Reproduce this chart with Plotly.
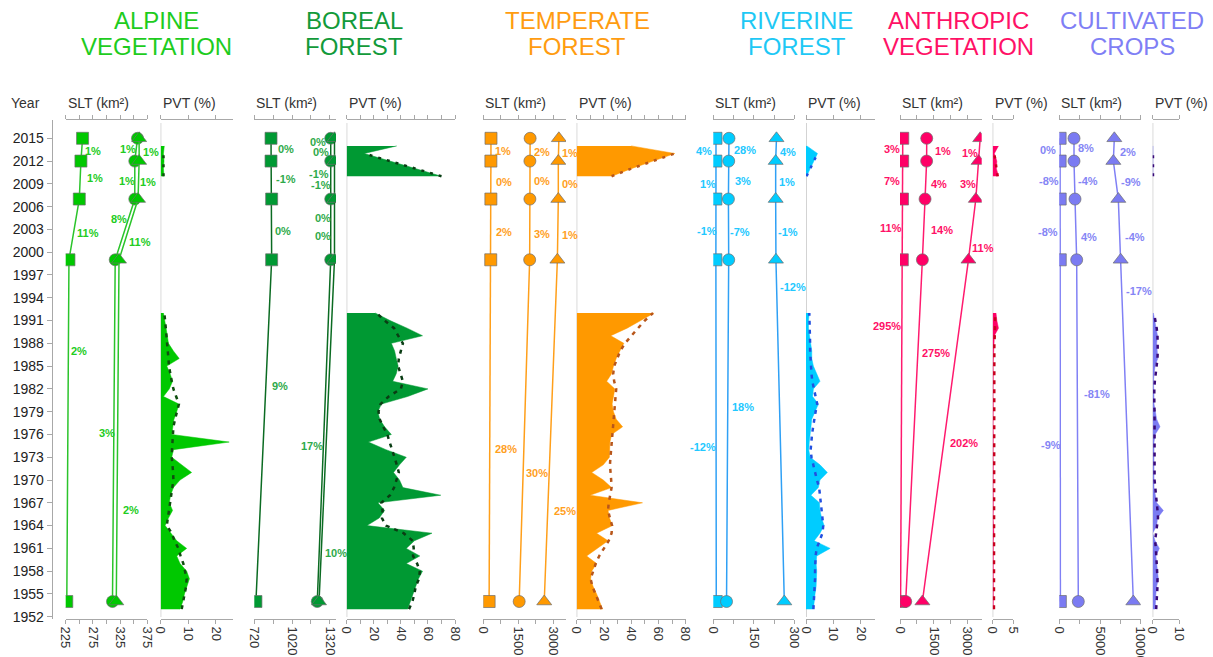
import plotly.graph_objects as go

W, H = 1213, 657
FONT = "Liberation Sans, Arial, sans-serif"

# ---------------- data ----------------
YEAR_TICKS = list(range(1952, 2016, 3))
SLT_YEARS = [2015, 2012, 2007, 1999, 1954]
PVT_YEARS = list(range(1953, 1993))
PVT_RECENT_YEARS = [2010, 2011, 2012, 2013, 2014]
DASH_RECENT_YEARS = [2010, 2011, 2012, 2013]

category_titles = [["ALPINE", "VEGETATION"], ["BOREAL", "FOREST"], ["TEMPERATE", "FOREST"],
                   ["RIVERINE", "FOREST"], ["ANTHROPIC", "VEGETATION"], ["CULTIVATED", "CROPS"]]

# SLT (km2) per series: square, circle, triangle (years 2015, 2012, 2007, 1999, 1954)
alpine_square = [256, 253, 250, 231, 227]
alpine_circle = [357, 352, 352, 316, 311]
alpine_triangle = [360, 360, 358, 323, 318]
boreal_square = [853, 853, 858, 858, 733]
boreal_circle = [1328, 1328, 1328, 1328, 1221]
boreal_triangle = [1358, 1358, 1358, 1358, 1235]
temperate_square = [330, 326, 326, 320, 250]
temperate_circle = [2010, 2000, 2000, 1990, 1540]
temperate_triangle = [3244, 3220, 3220, 3180, 2616]
riverine_square = [10, 9.6, 9.5, 9.6, 11]
riverine_circle = [58, 57, 56, 57, 49]
riverine_triangle = [234, 231, 231, 232, 263]
anthropic_square = [122, 118, 110, 103, 26]
anthropic_circle = [1184, 1180, 1110, 992, 253]
anthropic_triangle = [3552, 3480, 3360, 3033, 992]
cultivated_square = [100, 100, 109, 118, 130]
cultivated_circle = [1806, 1806, 1930, 2135, 2335]
cultivated_triangle = [6760, 6640, 7250, 7540, 9095]

# change labels (segments 2015-2012, 2012-2007, 2007-1999, 1999-1954)
alpine_labels = [["1%", "1%", "11%", "2%"], ["1%", "1%", "8%", "3%"], ["1%", "1%", "11%", "2%"]]
boreal_labels = [["0%", "-1%", "0%", "9%"], ["0%", "-1%", "0%", "17%"], ["0%", "-1%", "0%", "10%"]]
temperate_labels = [["1%", "0%", "2%", "28%"], ["2%", "0%", "3%", "30%"], ["1%", "0%", "1%", "25%"]]
riverine_labels = [["4%", "1%", "-1%", "-12%"], ["28%", "3%", "-7%", "18%"], ["4%", "1%", "-1%", "-12%"]]
anthropic_labels = [["3%", "7%", "11%", "295%"], ["1%", "4%", "14%", "275%"], ["1%", "3%", "11%", "202%"]]
cultivated_labels = [["0%", "-8%", "-8%", "-9%"], ["8%", "-4%", "4%", "-81%"], ["2%", "-9%", "-4%", "-17%"]]

# PVT (%) 1953..1992
alpine_pvt = [7.0, 8.0, 8.6, 9.4, 10.4, 9.4, 7.0, 5.8, 9.4, 5.8, 3.6, 1.6, 2.8, 4.3, 3.1, 3.6, 4.6, 7.0, 11.2, 7.6,
              4.0, 4.6, 24.8, 4.0, 4.3, 4.8, 5.8, 6.6, 1.0, 3.1, 4.3, 3.4, 2.2, 6.7, 4.6, 2.8, 2.4, 1.9, 1.6, 1.0]
alpine_trend = [7.6, 8.2, 8.8, 9.2, 9.4, 8.8, 8.2, 7.2, 6.4, 5.0, 4.0, 2.2, 2.6, 3.0, 3.4, 3.8, 4.2, 4.6, 4.5, 4.2,
                4.0, 4.1, 4.2, 4.3, 4.6, 5.2, 5.8, 6.6, 5.6, 4.6, 4.0, 3.4, 3.0, 2.8, 2.6, 2.4, 2.2, 1.9, 1.6, 1.3]
boreal_pvt = [45, 47, 49, 51, 53, 56, 44, 54, 44, 50, 63, 15, 24, 28, 23, 69.5, 41.5, 39, 34.6, 39,
              44, 29, 16, 33, 28, 24.4, 23, 25.6, 45, 60, 34, 36.6, 38, 36.6, 35.4, 33, 56, 44.6, 32, 21]
boreal_trend = [46, 48.5, 50, 51, 53.5, 54, 52, 49, 49.5, 48.8, 42, 29, 26, 26.5, 25.6, 32, 35, 36.6, 38.5, 37,
                35, 33.5, 31.7, 30, 27, 24.4, 23.5, 25, 31, 40, 41.5, 40, 38, 38.5, 40, 41.5, 38, 35, 28, 22]
temperate_pvt = [19, 17, 14.6, 12, 10.2, 11, 14.6, 7.3, 15, 23, 14.6, 26.3, 24, 23, 48.3, 9.8, 25.6, 19.5, 11, 19.5,
                 24, 24, 24.4, 25.6, 33.7, 29, 27, 26, 27, 28, 22, 25.6, 27, 29, 31.7, 34.6, 25, 37, 47, 56.8]
temperate_trend = [18.3, 16, 13.4, 11.5, 10.2, 12, 14, 16.5, 20, 23.5, 25.6, 26, 24.4, 23, 23.5, 24.5, 25.6, 25.3, 25, 24.4,
                   24.8, 25.3, 25.8, 26.3, 26.8, 27.3, 27.6, 28, 28.8, 29, 27.5, 26.8, 27.5, 29.5, 32, 35.4, 40, 45, 50, 56]
riverine_pvt = [2.7, 2.9, 3.3, 3.7, 3.9, 3.9, 3.7, 3.9, 8.8, 3.0, 5.1, 6.6, 5.7, 5.1, 4.9, 1.8, 4.5, 5.1, 7.8, 5.1,
                1.5, 1.0, 1.2, 1.5, 1.7, 2.1, 3.3, 4.5, 2.4, 2.7, 5.1, 3.9, 2.7, 2.1, 2.1, 1.7, 1.2, 0.9, 0.9, 1.2]
riverine_trend = [2.7, 2.9, 3.0, 3.2, 3.3, 3.3, 3.3, 3.5, 3.9, 5.0, 6.0, 6.3, 6.0, 5.7, 5.4, 5.0, 4.8, 4.0, 3.3, 2.6,
                  2.0, 1.7, 1.9, 2.2, 2.6, 3.0, 3.5, 4.1, 3.5, 2.8, 2.3, 2.0, 1.8, 1.7, 1.5, 1.5, 1.4, 1.3, 1.2, 1.2]
anthropic_pvt = [0.15, 0.15, 0.1, 0.15, 0.2, 0.15, 0.1, 0.15, 0.2, 0.15, 0.3, 0.15, 0.1, 0.15, 0.2, 0.15, 0.1, 0.15, 0.2, 0.15,
                 0.1, 0.15, 0.2, 0.15, 0.1, 0.15, 0.2, 0.15, 0.1, 0.15, 0.2, 0.15, 0.1, 0.15, 0.2, 0.2, 0.4, 1.4, 1.0, 0.8]
anthropic_trend = [0.3, 0.3, 0.3, 0.3, 0.3, 0.3, 0.3, 0.3, 0.3, 0.3, 0.3, 0.3, 0.3, 0.3, 0.3, 0.3, 0.3, 0.3, 0.3, 0.3,
                   0.3, 0.3, 0.3, 0.3, 0.3, 0.3, 0.3, 0.3, 0.3, 0.3, 0.3, 0.3, 0.3, 0.3, 0.35, 0.4, 0.5, 0.6, 0.6, 0.6]
cultivated_pvt = [0.9, 1.0, 1.2, 1.5, 2.1, 1.8, 1.5, 1.2, 2.5, 0.9, 0.0, 1.5, 1.8, 4.0, 1.5, 0.9, 0.5, 0.5, 0.5, 0.3,
                  0.3, 0.3, 0.5, 0.9, 2.75, 1.5, 0.9, 0.5, 0.5, 0.3, 0.3, 0.5, 0.9, 1.9, 1.8, 1.5, 1.8, 1.2, 0.6, 0.25]
cultivated_trend = [1.3, 1.5, 1.6, 1.8, 1.8, 1.7, 1.6, 1.5, 1.2, 0.9, 1.2, 1.6, 2.0, 1.8, 1.5, 1.1, 0.8, 0.7, 0.7, 0.7,
                    0.7, 0.8, 0.8, 0.9, 0.9, 0.8, 0.7, 0.6, 0.5, 0.6, 0.8, 1.2, 1.5, 1.8, 1.9, 1.9, 1.8, 1.5, 1.0, 0.5]

# PVT (%) 2010..2014 and trend 2010..2013
alpine_recent = [1.2, 1.0, 1.2, 1.0, 1.3]
alpine_recent_trend = [1.0, 1.0, 1.0, 1.0]
boreal_recent = [70, 51, 32, 13, 37]
boreal_recent_trend = [70, 51, 32, 13]
temperate_recent = [25.6, 40, 56, 72, 40]
temperate_recent_trend = [25.6, 40, 56, 72]
riverine_recent = [0.2, 1.5, 3.0, 4.2, 0.3]
riverine_recent_trend = [0.2, 1.5, 3.0, 4.2]
anthropic_recent = [1.4, 0.9, 1.0, 0.4, 1.4]
anthropic_recent_trend = [1.2, 0.9, 0.6, 0.4]
cultivated_recent = [0.1, 0.15, 0.1, 0.15, 0.1]
cultivated_recent_trend = [0.1, 0.1, 0.1, 0.1]

# ---------------- styling / layout config ----------------
cats = [
    dict(slt=[alpine_square, alpine_circle, alpine_triangle], labels=alpine_labels,
         pvt=alpine_pvt, trend=alpine_trend, recent=alpine_recent, rtrend=alpine_recent_trend,
         fill="#00C800", line="#2BC42B", text="#22CC22", dash="#0F4F0F", title="#1ECC1E",
         slt_dom=(65.7, 147.3), slt_rng=(225, 375), slt_ticks=[225, 250, 275, 300, 325, 350, 375],
         slt_text=["225", "", "275", "", "325", "", "375"],
         pvt_dom=(160.7, 232.5), pvt_rng=(0, 26), pvt_ticks=[0, 10, 20], pvt_text=["0", "10", "20"],
         title_x=156),
    dict(slt=[boreal_square, boreal_circle, boreal_triangle], labels=boreal_labels,
         pvt=boreal_pvt, trend=boreal_trend, recent=boreal_recent, rtrend=boreal_recent_trend,
         fill="#009933", line="#0B6B22", text="#2EAA4A", dash="#0A3D14", title="#129A3A",
         slt_dom=(254.3, 336), slt_rng=(720, 1370), slt_ticks=[720, 870, 1020, 1170, 1320],
         slt_text=["720", "", "1020", "", "1320"],
         pvt_dom=(346.7, 455), pvt_rng=(0, 80), pvt_ticks=list(range(0, 81, 10)),
         pvt_text=["0", "", "20", "", "40", "", "60", "", "80"], title_x=354),
    dict(slt=[temperate_square, temperate_circle, temperate_triangle], labels=temperate_labels,
         pvt=temperate_pvt, trend=temperate_trend, recent=temperate_recent, rtrend=temperate_recent_trend,
         fill="#FF9900", line="#FF9F1A", text="#FFA01E", dash="#B8561A", title="#FF9C10",
         slt_dom=(483.3, 566), slt_rng=(0, 3550), slt_ticks=[0, 750, 1500, 2250, 3000],
         slt_text=["0", "", "1500", "", "3000"],
         pvt_dom=(576.7, 685.7), pvt_rng=(0, 80), pvt_ticks=list(range(0, 81, 10)),
         pvt_text=["0", "", "20", "", "40", "", "60", "", "80"], title_x=577),
    dict(slt=[riverine_square, riverine_circle, riverine_triangle], labels=riverine_labels,
         pvt=riverine_pvt, trend=riverine_trend, recent=riverine_recent, rtrend=riverine_recent_trend,
         fill="#00CCFF", line="#2FA0F5", text="#22C8FF", dash="#2250E0", title="#1EC8F5",
         slt_dom=(713.3, 794.3), slt_rng=(0, 300), slt_ticks=[0, 75, 150, 225, 300],
         slt_text=["0", "", "150", "", "300"],
         pvt_dom=(806, 874.5), pvt_rng=(0, 25), pvt_ticks=[0, 10, 20], pvt_text=["0", "10", "20"],
         title_x=797),
    dict(slt=[anthropic_square, anthropic_circle, anthropic_triangle], labels=anthropic_labels,
         pvt=anthropic_pvt, trend=anthropic_trend, recent=anthropic_recent, rtrend=anthropic_recent_trend,
         fill="#FF0066", line="#FF1A6E", text="#FF1166", dash="#C8001E", title="#FF1166",
         slt_dom=(900, 981.7), slt_rng=(0, 3620), slt_ticks=[0, 750, 1500, 2250, 3000],
         slt_text=["0", "", "1500", "", "3000"],
         pvt_dom=(992.7, 1013.3), pvt_rng=(0, 5), pvt_ticks=[0, 5], pvt_text=["0", "5"],
         title_x=958),
    dict(slt=[cultivated_square, cultivated_circle, cultivated_triangle], labels=cultivated_labels,
         pvt=cultivated_pvt, trend=cultivated_trend, recent=cultivated_recent, rtrend=cultivated_recent_trend,
         fill="#7B7BF2", line="#8080F5", text="#8585F5", dash="#3A0A78", title="#7F7FF5",
         slt_dom=(1059.3, 1140.7), slt_rng=(0, 10000), slt_ticks=[0, 2500, 5000, 7500, 10000],
         slt_text=["0", "", "5000", "", "10000"],
         pvt_dom=(1152.7, 1179.3), pvt_rng=(0, 10), pvt_ticks=[0, 10], pvt_text=["0", "10"],
         title_x=1132),
]

# pixel positions of the change labels: [category][series][segment] -> (x, y)
label_pos = [
    [[(92.7, 150.7), (95, 177.7), (88.3, 232.7), (79, 351)],
     [(128.3, 149.3), (126.7, 180.7), (119, 219), (106.7, 433.3)],
     [(151, 151.7), (148.3, 181.7), (140, 241.7), (130.7, 510)]],
    [[(285.7, 149), (285.7, 179.3), (283.3, 231), (280, 386)],
     [(317.5, 142.3), (319, 174.3), (322.7, 218.3), (311.7, 446)],
     [(321, 151.7), (321, 185), (323.3, 235.7), (335.7, 552.7)]],
    [[(503.3, 150.7), (504.3, 182.3), (504.3, 231.7), (505.7, 449)],
     [(542.3, 151.7), (542.3, 181), (542.3, 234), (537.3, 472.7)],
     [(570, 152.7), (570, 184.3), (570, 235), (565, 510.7)]],
    [[(704, 151), (708.3, 184.3), (706.7, 231), (702.7, 447.3)],
     [(745, 150), (742.7, 181), (740, 231.7), (742.7, 406.7)],
     [(788.3, 151.7), (786.7, 182.3), (788.3, 232.3), (793.3, 287.3)]],
    [[(891.7, 149.3), (891.7, 180.7), (890.7, 227.7), (886.7, 326)],
     [(942.7, 150.7), (939.3, 184), (941.7, 230), (936, 352.7)],
     [(970, 152.7), (967.7, 184), (983.3, 247.7), (964, 442.7)]],
    [[(1048.3, 150), (1049.3, 181), (1048.3, 231.7), (1050.7, 445)],
     [(1086, 148.3), (1088.3, 180.7), (1089.3, 237.3), (1096.7, 394)],
     [(1128.3, 152.3), (1131, 181.7), (1135, 236.7), (1139.3, 290.7)]],
]

SYMBOLS = ["square", "circle", "triangle-up"]
SIZES = [12, 12, 13]
PLOT_TOP, PLOT_BOTTOM = 120, 619
YDOM = [1 - PLOT_BOTTOM / H, 1 - PLOT_TOP / H]
TITLE_LINE_Y = [20, 47]


def px(x):
    return x / W


def py(y):
    return 1 - y / H


fig = go.Figure()
layout_axes = {}
annotations = []
shapes = []

for i, c in enumerate(cats):
    ns = 2 * i + 1
    npv = 2 * i + 2
    xs = "x" if ns == 1 else f"x{ns}"
    xp = f"x{npv}"

    # SLT series
    for k in range(3):
        fig.add_trace(go.Scatter(
            x=c["slt"][k], y=SLT_YEARS, xaxis=xs, yaxis="y", mode="lines+markers",
            line=dict(color=c["line"], width=1.5),
            marker=dict(symbol=SYMBOLS[k], size=SIZES[k], color=c["fill"],
                        line=dict(color="#6f6f6f", width=0.7)),
            showlegend=False, hoverinfo="skip"))

    # PVT fills
    fig.add_trace(go.Scatter(
        x=c["pvt"], y=PVT_YEARS, xaxis=xp, yaxis="y", mode="lines", fill="tozerox",
        fillcolor=c["fill"], line=dict(color=c["fill"], width=0.5),
        showlegend=False, hoverinfo="skip"))
    fig.add_trace(go.Scatter(
        x=c["recent"], y=PVT_RECENT_YEARS, xaxis=xp, yaxis="y", mode="lines", fill="tozerox",
        fillcolor=c["fill"], line=dict(color=c["fill"], width=0.5),
        showlegend=False, hoverinfo="skip"))
    # trend dashed
    fig.add_trace(go.Scatter(
        x=c["trend"], y=PVT_YEARS, xaxis=xp, yaxis="y", mode="lines",
        line=dict(color=c["dash"], width=2.5, dash="4px,5px"),
        showlegend=False, hoverinfo="skip"))
    fig.add_trace(go.Scatter(
        x=c["rtrend"], y=DASH_RECENT_YEARS, xaxis=xp, yaxis="y", mode="lines",
        line=dict(color=c["dash"], width=2.5, dash="3px,6px"),
        showlegend=False, hoverinfo="skip"))

    common = dict(anchor="y", showline=True, mirror="ticks", linecolor="#a8a8a8", linewidth=1,
                  ticks="outside", ticklen=4, tickcolor="#a8a8a8", tickangle=90,
                  tickfont=dict(family=FONT, size=13, color="#333333"), automargin=False,
                  showgrid=False, zeroline=False, fixedrange=True)
    layout_axes["xaxis" if ns == 1 else f"xaxis{ns}"] = dict(
        domain=[px(c["slt_dom"][0]), px(c["slt_dom"][1])], range=list(c["slt_rng"]),
        tickmode="array", tickvals=c["slt_ticks"], ticktext=c["slt_text"], **common)
    layout_axes[f"xaxis{npv}"] = dict(
        domain=[px(c["pvt_dom"][0]), px(c["pvt_dom"][1])], range=list(c["pvt_rng"]),
        tickmode="array", tickvals=c["pvt_ticks"], ticktext=c["pvt_text"], **common)

    # zero reference line of PVT panel
    shapes.append(dict(type="line", xref=xp, x0=0, x1=0, yref="paper",
                       y0=py(617), y1=py(123), line=dict(color="#a8a8a8", width=1), layer="below"))

    # axis captions
    annotations.append(dict(text="SLT (km²)", xref=f"{xs} domain", yref="paper", x=0, y=py(103),
                            xanchor="left", yanchor="middle", showarrow=False,
                            font=dict(family=FONT, size=14, color="#333333")))
    annotations.append(dict(text="PVT (%)", xref=f"{xp} domain", yref="paper", x=0, y=py(103),
                            xanchor="left", yanchor="middle", showarrow=False,
                            font=dict(family=FONT, size=14, color="#333333")))
    # category title (two lines)
    for li, line_text in enumerate(category_titles[i]):
        annotations.append(dict(text=line_text, xref="paper", yref="paper",
                                x=px(c["title_x"]), y=py(TITLE_LINE_Y[li]), xanchor="center",
                                yanchor="middle", showarrow=False,
                                font=dict(family="Liberation Sans Narrow, " + FONT, size=24,
                                          color=c["title"])))
    # change labels
    for k in range(3):
        for s in range(4):
            lx, ly = label_pos[i][k][s]
            annotations.append(dict(text=c["labels"][k][s], xref="paper", yref="paper",
                                    x=px(lx), y=py(ly), xanchor="center", yanchor="middle",
                                    showarrow=False,
                                    font=dict(family=FONT, size=11, color=c["text"], weight="bold")))

annotations.append(dict(text="Year", xref="paper", yref="paper", x=px(25), y=py(103),
                        xanchor="center", yanchor="middle", showarrow=False,
                        font=dict(family=FONT, size=14, color="#333333")))

fig.update_layout(
    width=W, height=H, margin=dict(l=0, r=0, t=0, b=0, pad=0, autoexpand=False),
    paper_bgcolor="white", plot_bgcolor="white",
    yaxis=dict(domain=YDOM, range=[1951.7, 2017.41], anchor="free", position=px(51.7),
               tickmode="array", tickvals=YEAR_TICKS, ticks="outside", ticklen=5,
               tickcolor="#a8a8a8", showline=True, linecolor="#a8a8a8", automargin=False,
               tickfont=dict(family=FONT, size=14, color="#222222"),
               showgrid=False, zeroline=False, fixedrange=True),
    annotations=annotations, shapes=shapes, showlegend=False,
    **layout_axes)

fig.write_html("out.html", config={"displayModeBar": False},
               post_script="document.body.style.margin='0';document.body.style.overflow='hidden';")
